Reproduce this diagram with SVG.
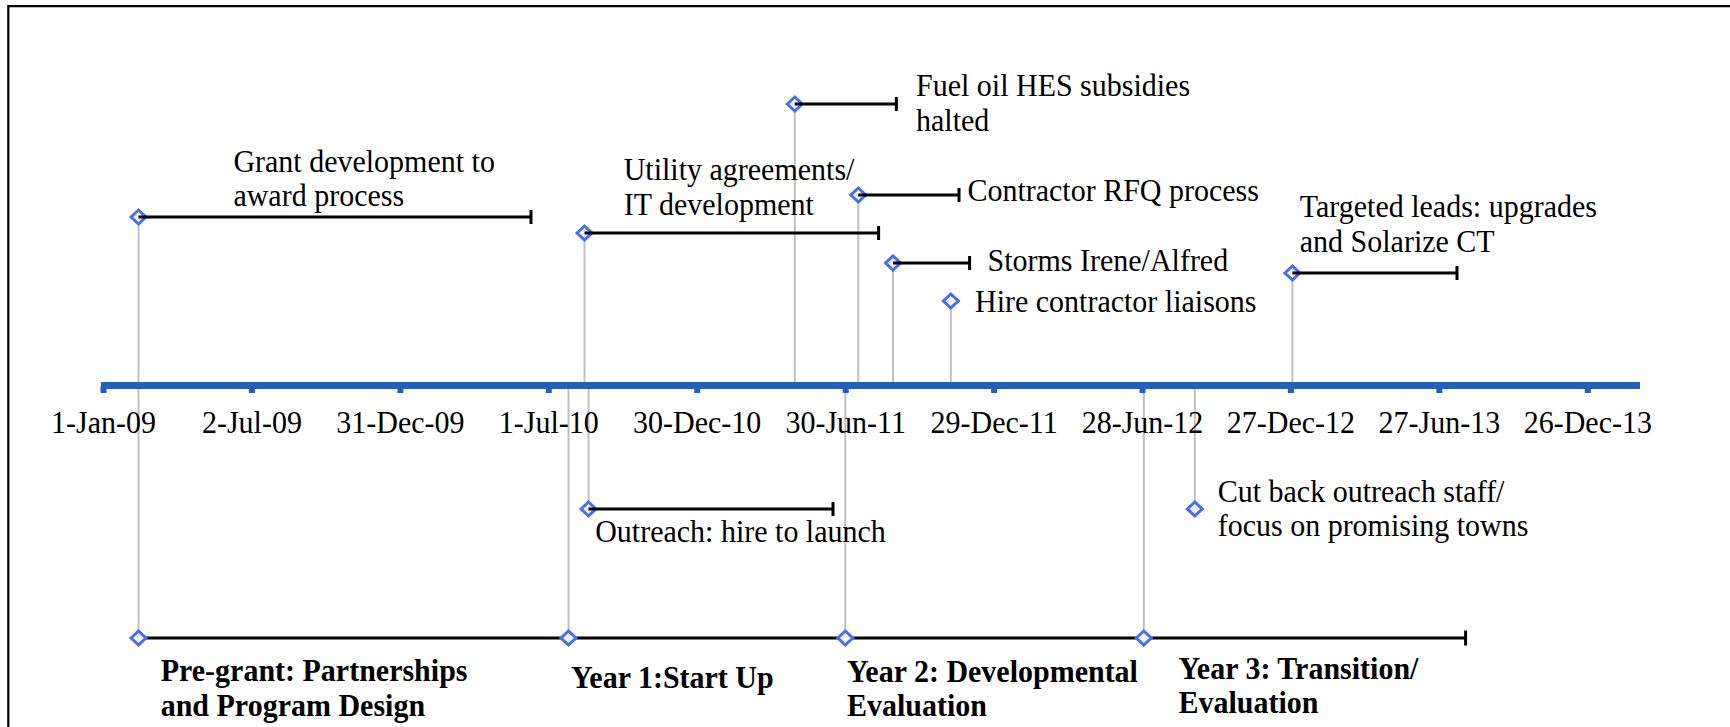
<svg xmlns="http://www.w3.org/2000/svg" width="1730" height="727" viewBox="0 0 1730 727">
<style>
.t{font-family:"Liberation Serif","Times New Roman",serif;font-size:32.5px;fill:#000}
.b{font-family:"Liberation Serif","Times New Roman",serif;font-size:32.5px;font-weight:bold;fill:#000}
.tk{font-family:"Liberation Serif","Times New Roman",serif;font-size:32.5px;fill:#000;text-anchor:middle}
.g{stroke:#c0c0c0;stroke-width:2;fill:none}
.bar{stroke:#000;stroke-width:3;fill:none}
.dm{fill:#eef2ff;stroke:#4a6cf0;stroke-width:3}
</style>
<defs>
<path id="dia" d="M-7.5,0 L0,-7 L7.5,0 L0,7 Z" class="dm"/>
</defs>
<rect width="1730" height="727" fill="#fff"/>
<path d="M8.3,727 V6.2 H1730" fill="none" stroke="#000" stroke-width="2.2"/>

<g id="connectors">
<line class="g" x1="138.5" y1="217" x2="138.5" y2="638"/>
<line class="g" x1="584.5" y1="233" x2="584.5" y2="386"/>
<line class="g" x1="794.8" y1="104" x2="794.8" y2="386"/>
<line class="g" x1="858.3" y1="195" x2="858.3" y2="386"/>
<line class="g" x1="893" y1="263" x2="893" y2="386"/>
<line class="g" x1="950.8" y1="301" x2="950.8" y2="386"/>
<line class="g" x1="1292.4" y1="273" x2="1292.4" y2="386"/>
<line class="g" x1="588.5" y1="386" x2="588.5" y2="509"/>
<line class="g" x1="1194.8" y1="386" x2="1194.8" y2="509"/>
<line class="g" x1="568.5" y1="386" x2="568.5" y2="638"/>
<line class="g" x1="845.3" y1="386" x2="845.3" y2="638"/>
<line class="g" x1="1143.8" y1="386" x2="1143.8" y2="638"/>
</g>

<g id="axis">
<rect x="101" y="382" width="1539" height="7" fill="#2060c0"/>
<g fill="#2060c0">
<rect x="100.5" y="386" width="6" height="7"/>
<rect x="248.9" y="386" width="6" height="7"/>
<rect x="397.4" y="386" width="6" height="7"/>
<rect x="545.8" y="386" width="6" height="7"/>
<rect x="694.2" y="386" width="6" height="7"/>
<rect x="842.7" y="386" width="6" height="7"/>
<rect x="991.1" y="386" width="6" height="7"/>
<rect x="1139.5" y="386" width="6" height="7"/>
<rect x="1287.9" y="386" width="6" height="7"/>
<rect x="1436.4" y="386" width="6" height="7"/>
<rect x="1584.8" y="386" width="6" height="7"/>
</g>
<text class="tk" transform="translate(103.5 433.3) scale(0.923 1)">1-Jan-09</text>
<text class="tk" transform="translate(251.9 433.3) scale(0.923 1)">2-Jul-09</text>
<text class="tk" transform="translate(400.4 433.3) scale(0.923 1)">31-Dec-09</text>
<text class="tk" transform="translate(548.8 433.3) scale(0.923 1)">1-Jul-10</text>
<text class="tk" transform="translate(697.2 433.3) scale(0.923 1)">30-Dec-10</text>
<text class="tk" transform="translate(845.7 433.3) scale(0.923 1)">30-Jun-11</text>
<text class="tk" transform="translate(994.1 433.3) scale(0.923 1)">29-Dec-11</text>
<text class="tk" transform="translate(1142.5 433.3) scale(0.923 1)">28-Jun-12</text>
<text class="tk" transform="translate(1290.9 433.3) scale(0.923 1)">27-Dec-12</text>
<text class="tk" transform="translate(1439.4 433.3) scale(0.923 1)">27-Jun-13</text>
<text class="tk" transform="translate(1587.8 433.3) scale(0.923 1)">26-Dec-13</text>
</g>

<g id="grant">
<use href="#dia" x="138.5" y="217"/>
<path class="bar" d="M138.5,217 H531 M531,210 V224"/>
<text class="t" transform="translate(233.4 171.7) scale(0.923 1)">Grant development to</text>
<text class="t" transform="translate(233.4 205.5) scale(0.923 1)">award process</text>
</g>
<g id="utility">
<use href="#dia" x="584.5" y="233"/>
<path class="bar" d="M584.5,233 H878.6 M878.6,226 V240"/>
<text class="t" transform="translate(623.7 180) scale(0.923 1)">Utility agreements/</text>
<text class="t" transform="translate(623.7 214.5) scale(0.923 1)">IT development</text>
</g>
<g id="fueloil">
<use href="#dia" x="794.8" y="104"/>
<path class="bar" d="M794.8,104 H896.4 M896.4,97 V111"/>
<text class="t" transform="translate(916 96) scale(0.923 1)">Fuel oil HES subsidies</text>
<text class="t" transform="translate(916 131) scale(0.923 1)">halted</text>
</g>
<g id="rfq">
<use href="#dia" x="858.3" y="195"/>
<path class="bar" d="M858.3,195 H959 M959,188 V202"/>
<text class="t" transform="translate(967.4 200.5) scale(0.923 1)">Contractor RFQ process</text>
</g>
<g id="storms">
<use href="#dia" x="893" y="263"/>
<path class="bar" d="M893,263 H969.6 M969.6,256 V270"/>
<text class="t" transform="translate(987.5 271) scale(0.923 1)">Storms Irene/Alfred</text>
</g>
<g id="liaisons">
<use href="#dia" x="950.8" y="301"/>
<text class="t" transform="translate(975 311.5) scale(0.923 1)">Hire contractor liaisons</text>
</g>
<g id="targeted">
<use href="#dia" x="1292.4" y="273"/>
<path class="bar" d="M1292.4,273 H1457 M1457,266 V280"/>
<text class="t" transform="translate(1299.8 216.7) scale(0.923 1)">Targeted leads: upgrades</text>
<text class="t" transform="translate(1299.8 251.5) scale(0.923 1)">and Solarize CT</text>
</g>
<g id="outreach">
<use href="#dia" x="588.5" y="509"/>
<path class="bar" d="M588.5,509 H833 M833,502 V516"/>
<text class="t" transform="translate(595.2 541.7) scale(0.923 1)">Outreach: hire to launch</text>
</g>
<g id="cutback">
<use href="#dia" x="1194.8" y="509"/>
<text class="t" transform="translate(1217.7 501.7) scale(0.923 1)">Cut back outreach staff/</text>
<text class="t" transform="translate(1217.7 535.5) scale(0.923 1)">focus on promising towns</text>
</g>

<g id="phases">
<path class="bar" d="M138.5,638 H1465.6 M568.5,631 V645 M845.3,631 V645 M1143.8,631 V645 M1465.6,630.5 V645.5"/>
</g>
<g id="pregrant">
<use href="#dia" x="138.5" y="638"/>
<text class="b" transform="translate(160.7 681) scale(0.923 1)">Pre-grant: Partnerships</text>
<text class="b" transform="translate(160.7 715.5) scale(0.923 1)">and Program Design</text>
</g>
<g id="year1">
<use href="#dia" x="568.5" y="638"/>
<text class="b" transform="translate(571 688) scale(0.923 1)">Year 1:Start Up</text>
</g>
<g id="year2">
<use href="#dia" x="845.3" y="638"/>
<text class="b" transform="translate(847 681.5) scale(0.923 1)">Year 2: Developmental</text>
<text class="b" transform="translate(847 715.5) scale(0.923 1)">Evaluation</text>
</g>
<g id="year3">
<use href="#dia" x="1143.8" y="638"/>
<text class="b" transform="translate(1178.5 678.5) scale(0.923 1)">Year 3: Transition/</text>
<text class="b" transform="translate(1178.5 713) scale(0.923 1)">Evaluation</text>
</g>
</svg>
